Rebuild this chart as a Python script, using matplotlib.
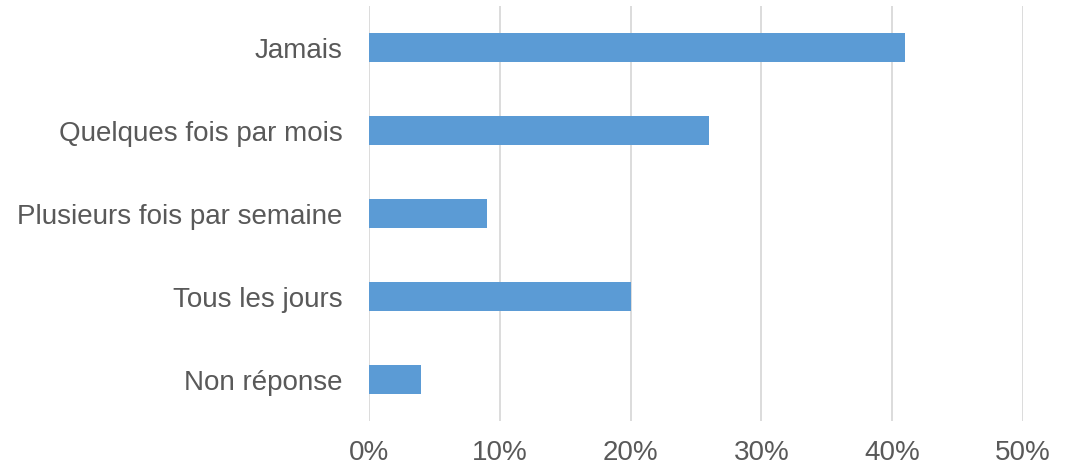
import matplotlib.pyplot as plt
from matplotlib.ticker import FuncFormatter

categories = ['Jamais', 'Quelques fois par mois', 'Plusieurs fois par semaine',
              'Tous les jours', 'Non réponse']
values = [41, 26, 9, 20, 4]
xticks = [0, 10, 20, 30, 40, 50]

plt.rcParams['font.family'] = ['Liberation Sans', 'DejaVu Sans']

fig = plt.figure(figsize=(10.7, 4.68), dpi=100)
ax = fig.add_axes([369/1070, 1 - 421/468, (1023 - 369)/1070, (421 - 6)/468])

ypos = list(range(len(categories)))
ax.barh(ypos, values, height=0.34, color='#5B9BD5', zorder=3)

ax.set_xlim(0, 50)
ax.set_ylim(4.5, -0.5)
ax.set_xticks(xticks)
ax.xaxis.set_major_formatter(FuncFormatter(lambda v, p: f'{int(v)}%'))
ax.set_yticks(ypos)
ax.set_yticklabels(categories)

ax.grid(axis='x', color='#D9D9D9', linewidth=1.3, zorder=0)
for s in ax.spines.values():
    s.set_visible(False)
ax.tick_params(axis='both', length=0, labelsize=20, labelcolor='#595959')
ax.tick_params(axis='y', pad=19)
ax.tick_params(axis='x', pad=14)

fig.savefig('out.png', dpi=100)
